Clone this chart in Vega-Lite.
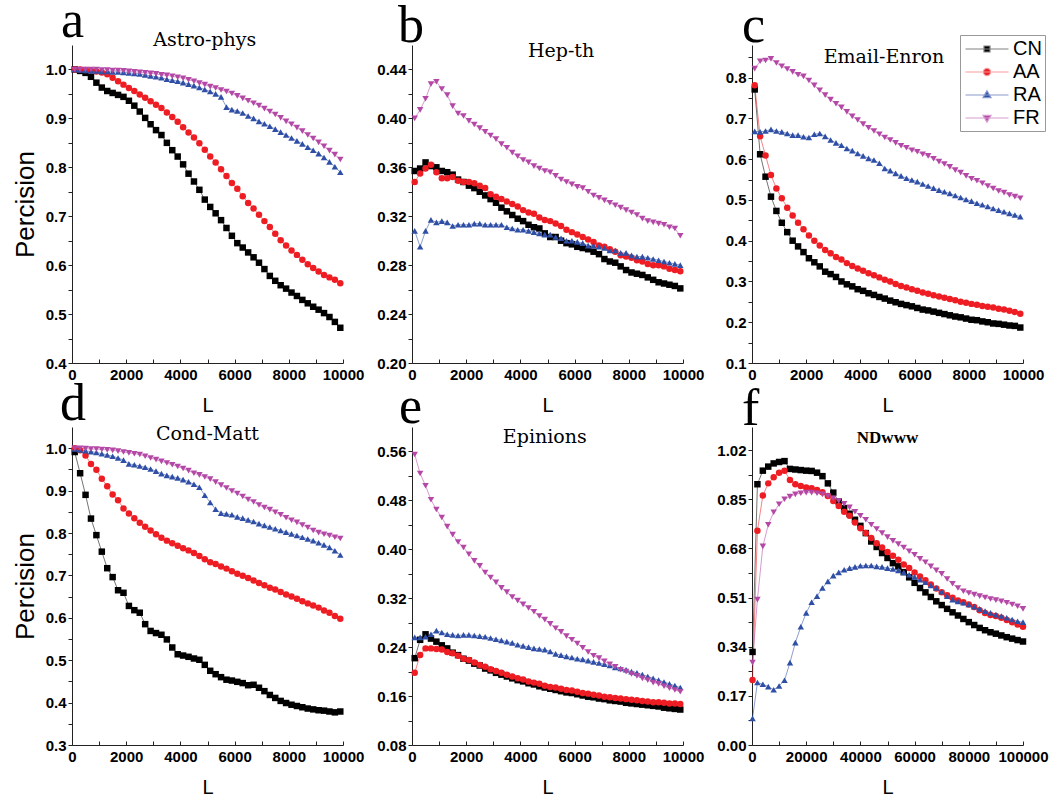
{
"$schema":"https://vega.github.io/schema/vega-lite/v6.json",
"padding":{"left":12,"top":-5,"right":5,"bottom":3},
"background":"white",
"resolve":{"scale":{"color":"independent","shape":"independent","fill":"independent","stroke":"independent"},"legend":{"color":"independent","shape":"independent","fill":"independent","stroke":"independent"}},
"config":{
 "view":{"stroke":null},
 "axis":{"grid":false,"labelFont":"Liberation Sans","labelFontWeight":"bold","labelFontSize":15,"labelColor":"#000","domainColor":"#222","tickColor":"#222","tickSize":4,"labelPadding":2,"titleFont":"Liberation Sans","titleFontWeight":"normal","titleColor":"#000","labelOverlap":false,"labelFlush":false},
 "axisX":{"tickSize":-4,"labelPadding":8,"titleFontSize":20,"titleY":48,"titleBaseline":"alphabetic"},
 "axisY":{"titleFontSize":26,"titleX":-39,"titleBaseline":"alphabetic"}
},
"datasets":{
"a":[
{"s":"CN","L":100,"v":1.0},{"s":"CN","L":300,"v":0.997},{"s":"CN","L":500,"v":0.993},{"s":"CN","L":700,"v":0.985},{"s":"CN","L":900,"v":0.973},{"s":"CN","L":1100,"v":0.963},{"s":"CN","L":1300,"v":0.956},{"s":"CN","L":1500,"v":0.952},{"s":"CN","L":1700,"v":0.948},{"s":"CN","L":1900,"v":0.944},
{"s":"CN","L":2100,"v":0.936},{"s":"CN","L":2300,"v":0.926},{"s":"CN","L":2500,"v":0.914},{"s":"CN","L":2700,"v":0.901},{"s":"CN","L":2900,"v":0.888},{"s":"CN","L":3100,"v":0.876},{"s":"CN","L":3300,"v":0.866},{"s":"CN","L":3500,"v":0.85},{"s":"CN","L":3700,"v":0.835},{"s":"CN","L":3900,"v":0.822},
{"s":"CN","L":4100,"v":0.806},{"s":"CN","L":4300,"v":0.787},{"s":"CN","L":4500,"v":0.771},{"s":"CN","L":4700,"v":0.754},{"s":"CN","L":4900,"v":0.734},{"s":"CN","L":5100,"v":0.719},{"s":"CN","L":5300,"v":0.706},{"s":"CN","L":5500,"v":0.692},{"s":"CN","L":5700,"v":0.676},{"s":"CN","L":5900,"v":0.66},
{"s":"CN","L":6100,"v":0.645},{"s":"CN","L":6300,"v":0.636},{"s":"CN","L":6500,"v":0.626},{"s":"CN","L":6700,"v":0.616},{"s":"CN","L":6900,"v":0.605},{"s":"CN","L":7100,"v":0.592},{"s":"CN","L":7300,"v":0.578},{"s":"CN","L":7500,"v":0.568},{"s":"CN","L":7700,"v":0.559},{"s":"CN","L":7900,"v":0.552},
{"s":"CN","L":8100,"v":0.544},{"s":"CN","L":8300,"v":0.537},{"s":"CN","L":8500,"v":0.529},{"s":"CN","L":8700,"v":0.522},{"s":"CN","L":8900,"v":0.515},{"s":"CN","L":9100,"v":0.509},{"s":"CN","L":9300,"v":0.502},{"s":"CN","L":9500,"v":0.494},{"s":"CN","L":9700,"v":0.484},{"s":"CN","L":9900,"v":0.472},
{"s":"AA","L":100,"v":1.0},{"s":"AA","L":300,"v":1.0},{"s":"AA","L":500,"v":0.999},{"s":"AA","L":700,"v":0.998},{"s":"AA","L":900,"v":0.996},{"s":"AA","L":1100,"v":0.994},{"s":"AA","L":1300,"v":0.99},{"s":"AA","L":1500,"v":0.983},{"s":"AA","L":1700,"v":0.976},{"s":"AA","L":1900,"v":0.969},
{"s":"AA","L":2100,"v":0.962},{"s":"AA","L":2300,"v":0.956},{"s":"AA","L":2500,"v":0.949},{"s":"AA","L":2700,"v":0.942},{"s":"AA","L":2900,"v":0.935},{"s":"AA","L":3100,"v":0.928},{"s":"AA","L":3300,"v":0.921},{"s":"AA","L":3500,"v":0.912},{"s":"AA","L":3700,"v":0.903},{"s":"AA","L":3900,"v":0.893},
{"s":"AA","L":4100,"v":0.882},{"s":"AA","L":4300,"v":0.871},{"s":"AA","L":4500,"v":0.861},{"s":"AA","L":4700,"v":0.849},{"s":"AA","L":4900,"v":0.836},{"s":"AA","L":5100,"v":0.822},{"s":"AA","L":5300,"v":0.81},{"s":"AA","L":5500,"v":0.796},{"s":"AA","L":5700,"v":0.782},{"s":"AA","L":5900,"v":0.768},
{"s":"AA","L":6100,"v":0.756},{"s":"AA","L":6300,"v":0.741},{"s":"AA","L":6500,"v":0.727},{"s":"AA","L":6700,"v":0.716},{"s":"AA","L":6900,"v":0.703},{"s":"AA","L":7100,"v":0.69},{"s":"AA","L":7300,"v":0.678},{"s":"AA","L":7500,"v":0.664},{"s":"AA","L":7700,"v":0.651},{"s":"AA","L":7900,"v":0.64},
{"s":"AA","L":8100,"v":0.63},{"s":"AA","L":8300,"v":0.621},{"s":"AA","L":8500,"v":0.611},{"s":"AA","L":8700,"v":0.602},{"s":"AA","L":8900,"v":0.594},{"s":"AA","L":9100,"v":0.587},{"s":"AA","L":9300,"v":0.58},{"s":"AA","L":9500,"v":0.575},{"s":"AA","L":9700,"v":0.57},{"s":"AA","L":9900,"v":0.563},
{"s":"RA","L":100,"v":1.0},{"s":"RA","L":300,"v":0.999},{"s":"RA","L":500,"v":0.998},{"s":"RA","L":700,"v":0.997},{"s":"RA","L":900,"v":0.997},{"s":"RA","L":1100,"v":0.996},{"s":"RA","L":1300,"v":0.996},{"s":"RA","L":1500,"v":0.995},{"s":"RA","L":1700,"v":0.995},{"s":"RA","L":1900,"v":0.994},
{"s":"RA","L":2100,"v":0.993},{"s":"RA","L":2300,"v":0.992},{"s":"RA","L":2500,"v":0.991},{"s":"RA","L":2700,"v":0.989},{"s":"RA","L":2900,"v":0.987},{"s":"RA","L":3100,"v":0.985},{"s":"RA","L":3300,"v":0.983},{"s":"RA","L":3500,"v":0.98},{"s":"RA","L":3700,"v":0.978},{"s":"RA","L":3900,"v":0.976},
{"s":"RA","L":4100,"v":0.973},{"s":"RA","L":4300,"v":0.97},{"s":"RA","L":4500,"v":0.967},{"s":"RA","L":4700,"v":0.963},{"s":"RA","L":4900,"v":0.959},{"s":"RA","L":5100,"v":0.955},{"s":"RA","L":5300,"v":0.95},{"s":"RA","L":5500,"v":0.944},{"s":"RA","L":5700,"v":0.923},{"s":"RA","L":5900,"v":0.918},
{"s":"RA","L":6100,"v":0.915},{"s":"RA","L":6300,"v":0.911},{"s":"RA","L":6500,"v":0.905},{"s":"RA","L":6700,"v":0.9},{"s":"RA","L":6900,"v":0.894},{"s":"RA","L":7100,"v":0.889},{"s":"RA","L":7300,"v":0.884},{"s":"RA","L":7500,"v":0.878},{"s":"RA","L":7700,"v":0.872},{"s":"RA","L":7900,"v":0.866},
{"s":"RA","L":8100,"v":0.86},{"s":"RA","L":8300,"v":0.854},{"s":"RA","L":8500,"v":0.848},{"s":"RA","L":8700,"v":0.841},{"s":"RA","L":8900,"v":0.835},{"s":"RA","L":9100,"v":0.828},{"s":"RA","L":9300,"v":0.82},{"s":"RA","L":9500,"v":0.811},{"s":"RA","L":9700,"v":0.801},{"s":"RA","L":9900,"v":0.79},
{"s":"FR","L":100,"v":1.0},{"s":"FR","L":300,"v":1.0},{"s":"FR","L":500,"v":1.0},{"s":"FR","L":700,"v":1.0},{"s":"FR","L":900,"v":1.0},{"s":"FR","L":1100,"v":0.999},{"s":"FR","L":1300,"v":0.999},{"s":"FR","L":1500,"v":0.998},{"s":"FR","L":1700,"v":0.998},{"s":"FR","L":1900,"v":0.997},
{"s":"FR","L":2100,"v":0.996},{"s":"FR","L":2300,"v":0.995},{"s":"FR","L":2500,"v":0.994},{"s":"FR","L":2700,"v":0.993},{"s":"FR","L":2900,"v":0.992},{"s":"FR","L":3100,"v":0.991},{"s":"FR","L":3300,"v":0.989},{"s":"FR","L":3500,"v":0.988},{"s":"FR","L":3700,"v":0.986},{"s":"FR","L":3900,"v":0.984},
{"s":"FR","L":4100,"v":0.982},{"s":"FR","L":4300,"v":0.979},{"s":"FR","L":4500,"v":0.976},{"s":"FR","L":4700,"v":0.972},{"s":"FR","L":4900,"v":0.969},{"s":"FR","L":5100,"v":0.965},{"s":"FR","L":5300,"v":0.962},{"s":"FR","L":5500,"v":0.958},{"s":"FR","L":5700,"v":0.955},{"s":"FR","L":5900,"v":0.951},
{"s":"FR","L":6100,"v":0.946},{"s":"FR","L":6300,"v":0.941},{"s":"FR","L":6500,"v":0.936},{"s":"FR","L":6700,"v":0.931},{"s":"FR","L":6900,"v":0.926},{"s":"FR","L":7100,"v":0.92},{"s":"FR","L":7300,"v":0.914},{"s":"FR","L":7500,"v":0.908},{"s":"FR","L":7700,"v":0.901},{"s":"FR","L":7900,"v":0.894},
{"s":"FR","L":8100,"v":0.888},{"s":"FR","L":8300,"v":0.881},{"s":"FR","L":8500,"v":0.874},{"s":"FR","L":8700,"v":0.866},{"s":"FR","L":8900,"v":0.859},{"s":"FR","L":9100,"v":0.851},{"s":"FR","L":9300,"v":0.843},{"s":"FR","L":9500,"v":0.834},{"s":"FR","L":9700,"v":0.826},{"s":"FR","L":9900,"v":0.816}
],
"b":[
{"s":"CN","L":100,"v":0.357},{"s":"CN","L":300,"v":0.359},{"s":"CN","L":500,"v":0.364},{"s":"CN","L":700,"v":0.361},{"s":"CN","L":900,"v":0.36},{"s":"CN","L":1100,"v":0.357},{"s":"CN","L":1300,"v":0.356},{"s":"CN","L":1500,"v":0.354},{"s":"CN","L":1700,"v":0.35},{"s":"CN","L":1900,"v":0.348},
{"s":"CN","L":2100,"v":0.345},{"s":"CN","L":2300,"v":0.343},{"s":"CN","L":2500,"v":0.34},{"s":"CN","L":2700,"v":0.337},{"s":"CN","L":2900,"v":0.334},{"s":"CN","L":3100,"v":0.331},{"s":"CN","L":3300,"v":0.327},{"s":"CN","L":3500,"v":0.324},{"s":"CN","L":3700,"v":0.321},{"s":"CN","L":3900,"v":0.318},
{"s":"CN","L":4100,"v":0.316},{"s":"CN","L":4300,"v":0.313},{"s":"CN","L":4500,"v":0.311},{"s":"CN","L":4700,"v":0.31},{"s":"CN","L":4900,"v":0.306},{"s":"CN","L":5100,"v":0.303},{"s":"CN","L":5300,"v":0.303},{"s":"CN","L":5500,"v":0.3},{"s":"CN","L":5700,"v":0.298},{"s":"CN","L":5900,"v":0.297},
{"s":"CN","L":6100,"v":0.295},{"s":"CN","L":6300,"v":0.294},{"s":"CN","L":6500,"v":0.293},{"s":"CN","L":6700,"v":0.291},{"s":"CN","L":6900,"v":0.289},{"s":"CN","L":7100,"v":0.285},{"s":"CN","L":7300,"v":0.283},{"s":"CN","L":7500,"v":0.282},{"s":"CN","L":7700,"v":0.279},{"s":"CN","L":7900,"v":0.276},
{"s":"CN","L":8100,"v":0.274},{"s":"CN","L":8300,"v":0.273},{"s":"CN","L":8500,"v":0.272},{"s":"CN","L":8700,"v":0.27},{"s":"CN","L":8900,"v":0.268},{"s":"CN","L":9100,"v":0.266},{"s":"CN","L":9300,"v":0.265},{"s":"CN","L":9500,"v":0.264},{"s":"CN","L":9700,"v":0.263},{"s":"CN","L":9900,"v":0.261},
{"s":"AA","L":100,"v":0.348},{"s":"AA","L":300,"v":0.355},{"s":"AA","L":500,"v":0.359},{"s":"AA","L":700,"v":0.362},{"s":"AA","L":900,"v":0.356},{"s":"AA","L":1100,"v":0.351},{"s":"AA","L":1300,"v":0.351},{"s":"AA","L":1500,"v":0.352},{"s":"AA","L":1700,"v":0.349},{"s":"AA","L":1900,"v":0.348},
{"s":"AA","L":2100,"v":0.348},{"s":"AA","L":2300,"v":0.347},{"s":"AA","L":2500,"v":0.345},{"s":"AA","L":2700,"v":0.343},{"s":"AA","L":2900,"v":0.338},{"s":"AA","L":3100,"v":0.336},{"s":"AA","L":3300,"v":0.334},{"s":"AA","L":3500,"v":0.332},{"s":"AA","L":3700,"v":0.33},{"s":"AA","L":3900,"v":0.328},
{"s":"AA","L":4100,"v":0.325},{"s":"AA","L":4300,"v":0.323},{"s":"AA","L":4500,"v":0.322},{"s":"AA","L":4700,"v":0.319},{"s":"AA","L":4900,"v":0.317},{"s":"AA","L":5100,"v":0.316},{"s":"AA","L":5300,"v":0.314},{"s":"AA","L":5500,"v":0.312},{"s":"AA","L":5700,"v":0.309},{"s":"AA","L":5900,"v":0.307},
{"s":"AA","L":6100,"v":0.305},{"s":"AA","L":6300,"v":0.303},{"s":"AA","L":6500,"v":0.301},{"s":"AA","L":6700,"v":0.299},{"s":"AA","L":6900,"v":0.296},{"s":"AA","L":7100,"v":0.295},{"s":"AA","L":7300,"v":0.293},{"s":"AA","L":7500,"v":0.291},{"s":"AA","L":7700,"v":0.288},{"s":"AA","L":7900,"v":0.287},
{"s":"AA","L":8100,"v":0.286},{"s":"AA","L":8300,"v":0.284},{"s":"AA","L":8500,"v":0.283},{"s":"AA","L":8700,"v":0.281},{"s":"AA","L":8900,"v":0.28},{"s":"AA","L":9100,"v":0.28},{"s":"AA","L":9300,"v":0.279},{"s":"AA","L":9500,"v":0.277},{"s":"AA","L":9700,"v":0.276},{"s":"AA","L":9900,"v":0.275},
{"s":"RA","L":100,"v":0.308},{"s":"RA","L":300,"v":0.295},{"s":"RA","L":500,"v":0.308},{"s":"RA","L":700,"v":0.317},{"s":"RA","L":900,"v":0.315},{"s":"RA","L":1100,"v":0.316},{"s":"RA","L":1300,"v":0.315},{"s":"RA","L":1500,"v":0.312},{"s":"RA","L":1700,"v":0.313},{"s":"RA","L":1900,"v":0.313},
{"s":"RA","L":2100,"v":0.313},{"s":"RA","L":2300,"v":0.314},{"s":"RA","L":2500,"v":0.314},{"s":"RA","L":2700,"v":0.313},{"s":"RA","L":2900,"v":0.313},{"s":"RA","L":3100,"v":0.313},{"s":"RA","L":3300,"v":0.313},{"s":"RA","L":3500,"v":0.311},{"s":"RA","L":3700,"v":0.31},{"s":"RA","L":3900,"v":0.309},
{"s":"RA","L":4100,"v":0.309},{"s":"RA","L":4300,"v":0.308},{"s":"RA","L":4500,"v":0.307},{"s":"RA","L":4700,"v":0.306},{"s":"RA","L":4900,"v":0.305},{"s":"RA","L":5100,"v":0.305},{"s":"RA","L":5300,"v":0.303},{"s":"RA","L":5500,"v":0.302},{"s":"RA","L":5700,"v":0.3},{"s":"RA","L":5900,"v":0.3},
{"s":"RA","L":6100,"v":0.299},{"s":"RA","L":6300,"v":0.298},{"s":"RA","L":6500,"v":0.296},{"s":"RA","L":6700,"v":0.296},{"s":"RA","L":6900,"v":0.295},{"s":"RA","L":7100,"v":0.294},{"s":"RA","L":7300,"v":0.292},{"s":"RA","L":7500,"v":0.292},{"s":"RA","L":7700,"v":0.29},{"s":"RA","L":7900,"v":0.29},
{"s":"RA","L":8100,"v":0.288},{"s":"RA","L":8300,"v":0.287},{"s":"RA","L":8500,"v":0.287},{"s":"RA","L":8700,"v":0.286},{"s":"RA","L":8900,"v":0.285},{"s":"RA","L":9100,"v":0.284},{"s":"RA","L":9300,"v":0.283},{"s":"RA","L":9500,"v":0.282},{"s":"RA","L":9700,"v":0.281},{"s":"RA","L":9900,"v":0.28},
{"s":"FR","L":100,"v":0.4},{"s":"FR","L":300,"v":0.407},{"s":"FR","L":500,"v":0.416},{"s":"FR","L":700,"v":0.428},{"s":"FR","L":900,"v":0.43},{"s":"FR","L":1100,"v":0.424},{"s":"FR","L":1300,"v":0.419},{"s":"FR","L":1500,"v":0.41},{"s":"FR","L":1700,"v":0.404},{"s":"FR","L":1900,"v":0.402},
{"s":"FR","L":2100,"v":0.398},{"s":"FR","L":2300,"v":0.395},{"s":"FR","L":2500,"v":0.392},{"s":"FR","L":2700,"v":0.389},{"s":"FR","L":2900,"v":0.386},{"s":"FR","L":3100,"v":0.383},{"s":"FR","L":3300,"v":0.379},{"s":"FR","L":3500,"v":0.376},{"s":"FR","L":3700,"v":0.372},{"s":"FR","L":3900,"v":0.369},
{"s":"FR","L":4100,"v":0.366},{"s":"FR","L":4300,"v":0.364},{"s":"FR","L":4500,"v":0.361},{"s":"FR","L":4700,"v":0.359},{"s":"FR","L":4900,"v":0.357},{"s":"FR","L":5100,"v":0.356},{"s":"FR","L":5300,"v":0.353},{"s":"FR","L":5500,"v":0.35},{"s":"FR","L":5700,"v":0.348},{"s":"FR","L":5900,"v":0.346},
{"s":"FR","L":6100,"v":0.344},{"s":"FR","L":6300,"v":0.343},{"s":"FR","L":6500,"v":0.34},{"s":"FR","L":6700,"v":0.337},{"s":"FR","L":6900,"v":0.335},{"s":"FR","L":7100,"v":0.333},{"s":"FR","L":7300,"v":0.331},{"s":"FR","L":7500,"v":0.329},{"s":"FR","L":7700,"v":0.327},{"s":"FR","L":7900,"v":0.325},
{"s":"FR","L":8100,"v":0.323},{"s":"FR","L":8300,"v":0.321},{"s":"FR","L":8500,"v":0.318},{"s":"FR","L":8700,"v":0.316},{"s":"FR","L":8900,"v":0.315},{"s":"FR","L":9100,"v":0.314},{"s":"FR","L":9300,"v":0.313},{"s":"FR","L":9500,"v":0.311},{"s":"FR","L":9700,"v":0.31},{"s":"FR","L":9900,"v":0.304}
],
"c":[
{"s":"CN","L":100,"v":0.771},{"s":"CN","L":300,"v":0.612},{"s":"CN","L":500,"v":0.557},{"s":"CN","L":700,"v":0.508},{"s":"CN","L":900,"v":0.473},{"s":"CN","L":1100,"v":0.444},{"s":"CN","L":1300,"v":0.421},{"s":"CN","L":1500,"v":0.4},{"s":"CN","L":1700,"v":0.386},{"s":"CN","L":1900,"v":0.372},
{"s":"CN","L":2100,"v":0.357},{"s":"CN","L":2300,"v":0.347},{"s":"CN","L":2500,"v":0.337},{"s":"CN","L":2700,"v":0.324},{"s":"CN","L":2900,"v":0.318},{"s":"CN","L":3100,"v":0.311},{"s":"CN","L":3300,"v":0.3},{"s":"CN","L":3500,"v":0.293},{"s":"CN","L":3700,"v":0.288},{"s":"CN","L":3900,"v":0.281},
{"s":"CN","L":4100,"v":0.277},{"s":"CN","L":4300,"v":0.271},{"s":"CN","L":4500,"v":0.267},{"s":"CN","L":4700,"v":0.262},{"s":"CN","L":4900,"v":0.258},{"s":"CN","L":5100,"v":0.253},{"s":"CN","L":5300,"v":0.249},{"s":"CN","L":5500,"v":0.245},{"s":"CN","L":5700,"v":0.242},{"s":"CN","L":5900,"v":0.239},
{"s":"CN","L":6100,"v":0.235},{"s":"CN","L":6300,"v":0.231},{"s":"CN","L":6500,"v":0.229},{"s":"CN","L":6700,"v":0.226},{"s":"CN","L":6900,"v":0.223},{"s":"CN","L":7100,"v":0.22},{"s":"CN","L":7300,"v":0.217},{"s":"CN","L":7500,"v":0.214},{"s":"CN","L":7700,"v":0.212},{"s":"CN","L":7900,"v":0.209},
{"s":"CN","L":8100,"v":0.206},{"s":"CN","L":8300,"v":0.205},{"s":"CN","L":8500,"v":0.202},{"s":"CN","L":8700,"v":0.2},{"s":"CN","L":8900,"v":0.197},{"s":"CN","L":9100,"v":0.196},{"s":"CN","L":9300,"v":0.194},{"s":"CN","L":9500,"v":0.192},{"s":"CN","L":9700,"v":0.191},{"s":"CN","L":9900,"v":0.187},
{"s":"AA","L":100,"v":0.781},{"s":"AA","L":300,"v":0.656},{"s":"AA","L":500,"v":0.609},{"s":"AA","L":700,"v":0.561},{"s":"AA","L":900,"v":0.528},{"s":"AA","L":1100,"v":0.504},{"s":"AA","L":1300,"v":0.481},{"s":"AA","L":1500,"v":0.462},{"s":"AA","L":1700,"v":0.444},{"s":"AA","L":1900,"v":0.428},
{"s":"AA","L":2100,"v":0.413},{"s":"AA","L":2300,"v":0.4},{"s":"AA","L":2500,"v":0.388},{"s":"AA","L":2700,"v":0.377},{"s":"AA","L":2900,"v":0.369},{"s":"AA","L":3100,"v":0.36},{"s":"AA","L":3300,"v":0.354},{"s":"AA","L":3500,"v":0.345},{"s":"AA","L":3700,"v":0.338},{"s":"AA","L":3900,"v":0.332},
{"s":"AA","L":4100,"v":0.326},{"s":"AA","L":4300,"v":0.32},{"s":"AA","L":4500,"v":0.315},{"s":"AA","L":4700,"v":0.31},{"s":"AA","L":4900,"v":0.304},{"s":"AA","L":5100,"v":0.3},{"s":"AA","L":5300,"v":0.294},{"s":"AA","L":5500,"v":0.289},{"s":"AA","L":5700,"v":0.285},{"s":"AA","L":5900,"v":0.281},
{"s":"AA","L":6100,"v":0.277},{"s":"AA","L":6300,"v":0.273},{"s":"AA","L":6500,"v":0.27},{"s":"AA","L":6700,"v":0.266},{"s":"AA","L":6900,"v":0.263},{"s":"AA","L":7100,"v":0.26},{"s":"AA","L":7300,"v":0.257},{"s":"AA","L":7500,"v":0.254},{"s":"AA","L":7700,"v":0.25},{"s":"AA","L":7900,"v":0.248},
{"s":"AA","L":8100,"v":0.245},{"s":"AA","L":8300,"v":0.243},{"s":"AA","L":8500,"v":0.24},{"s":"AA","L":8700,"v":0.238},{"s":"AA","L":8900,"v":0.236},{"s":"AA","L":9100,"v":0.233},{"s":"AA","L":9300,"v":0.231},{"s":"AA","L":9500,"v":0.228},{"s":"AA","L":9700,"v":0.225},{"s":"AA","L":9900,"v":0.221},
{"s":"RA","L":100,"v":0.668},{"s":"RA","L":300,"v":0.667},{"s":"RA","L":500,"v":0.669},{"s":"RA","L":700,"v":0.673},{"s":"RA","L":900,"v":0.669},{"s":"RA","L":1100,"v":0.667},{"s":"RA","L":1300,"v":0.663},{"s":"RA","L":1500,"v":0.659},{"s":"RA","L":1700,"v":0.659},{"s":"RA","L":1900,"v":0.655},
{"s":"RA","L":2100,"v":0.653},{"s":"RA","L":2300,"v":0.661},{"s":"RA","L":2500,"v":0.663},{"s":"RA","L":2700,"v":0.656},{"s":"RA","L":2900,"v":0.647},{"s":"RA","L":3100,"v":0.64},{"s":"RA","L":3300,"v":0.634},{"s":"RA","L":3500,"v":0.626},{"s":"RA","L":3700,"v":0.621},{"s":"RA","L":3900,"v":0.614},
{"s":"RA","L":4100,"v":0.608},{"s":"RA","L":4300,"v":0.602},{"s":"RA","L":4500,"v":0.598},{"s":"RA","L":4700,"v":0.59},{"s":"RA","L":4900,"v":0.577},{"s":"RA","L":5100,"v":0.572},{"s":"RA","L":5300,"v":0.565},{"s":"RA","L":5500,"v":0.559},{"s":"RA","L":5700,"v":0.553},{"s":"RA","L":5900,"v":0.549},
{"s":"RA","L":6100,"v":0.545},{"s":"RA","L":6300,"v":0.539},{"s":"RA","L":6500,"v":0.534},{"s":"RA","L":6700,"v":0.529},{"s":"RA","L":6900,"v":0.524},{"s":"RA","L":7100,"v":0.52},{"s":"RA","L":7300,"v":0.516},{"s":"RA","L":7500,"v":0.511},{"s":"RA","L":7700,"v":0.506},{"s":"RA","L":7900,"v":0.501},
{"s":"RA","L":8100,"v":0.497},{"s":"RA","L":8300,"v":0.492},{"s":"RA","L":8500,"v":0.488},{"s":"RA","L":8700,"v":0.484},{"s":"RA","L":8900,"v":0.479},{"s":"RA","L":9100,"v":0.475},{"s":"RA","L":9300,"v":0.471},{"s":"RA","L":9500,"v":0.467},{"s":"RA","L":9700,"v":0.463},{"s":"RA","L":9900,"v":0.459},
{"s":"FR","L":100,"v":0.822},{"s":"FR","L":300,"v":0.84},{"s":"FR","L":500,"v":0.842},{"s":"FR","L":700,"v":0.846},{"s":"FR","L":900,"v":0.836},{"s":"FR","L":1100,"v":0.828},{"s":"FR","L":1300,"v":0.821},{"s":"FR","L":1500,"v":0.814},{"s":"FR","L":1700,"v":0.807},{"s":"FR","L":1900,"v":0.803},
{"s":"FR","L":2100,"v":0.793},{"s":"FR","L":2300,"v":0.781},{"s":"FR","L":2500,"v":0.769},{"s":"FR","L":2700,"v":0.757},{"s":"FR","L":2900,"v":0.746},{"s":"FR","L":3100,"v":0.736},{"s":"FR","L":3300,"v":0.727},{"s":"FR","L":3500,"v":0.716},{"s":"FR","L":3700,"v":0.705},{"s":"FR","L":3900,"v":0.696},
{"s":"FR","L":4100,"v":0.686},{"s":"FR","L":4300,"v":0.677},{"s":"FR","L":4500,"v":0.669},{"s":"FR","L":4700,"v":0.661},{"s":"FR","L":4900,"v":0.653},{"s":"FR","L":5100,"v":0.647},{"s":"FR","L":5300,"v":0.64},{"s":"FR","L":5500,"v":0.633},{"s":"FR","L":5700,"v":0.628},{"s":"FR","L":5900,"v":0.622},
{"s":"FR","L":6100,"v":0.618},{"s":"FR","L":6300,"v":0.612},{"s":"FR","L":6500,"v":0.608},{"s":"FR","L":6700,"v":0.601},{"s":"FR","L":6900,"v":0.594},{"s":"FR","L":7100,"v":0.588},{"s":"FR","L":7300,"v":0.581},{"s":"FR","L":7500,"v":0.573},{"s":"FR","L":7700,"v":0.567},{"s":"FR","L":7900,"v":0.559},
{"s":"FR","L":8100,"v":0.552},{"s":"FR","L":8300,"v":0.547},{"s":"FR","L":8500,"v":0.541},{"s":"FR","L":8700,"v":0.534},{"s":"FR","L":8900,"v":0.528},{"s":"FR","L":9100,"v":0.522},{"s":"FR","L":9300,"v":0.518},{"s":"FR","L":9500,"v":0.512},{"s":"FR","L":9700,"v":0.508},{"s":"FR","L":9900,"v":0.504}
],
"d":[
{"s":"CN","L":100,"v":0.991},{"s":"CN","L":300,"v":0.941},{"s":"CN","L":500,"v":0.89},{"s":"CN","L":700,"v":0.834},{"s":"CN","L":900,"v":0.795},{"s":"CN","L":1100,"v":0.756},{"s":"CN","L":1300,"v":0.717},{"s":"CN","L":1500,"v":0.696},{"s":"CN","L":1700,"v":0.665},{"s":"CN","L":1900,"v":0.659},
{"s":"CN","L":2100,"v":0.628},{"s":"CN","L":2300,"v":0.618},{"s":"CN","L":2500,"v":0.612},{"s":"CN","L":2700,"v":0.585},{"s":"CN","L":2900,"v":0.569},{"s":"CN","L":3100,"v":0.564},{"s":"CN","L":3300,"v":0.56},{"s":"CN","L":3500,"v":0.549},{"s":"CN","L":3700,"v":0.53},{"s":"CN","L":3900,"v":0.514},
{"s":"CN","L":4100,"v":0.511},{"s":"CN","L":4300,"v":0.508},{"s":"CN","L":4500,"v":0.504},{"s":"CN","L":4700,"v":0.501},{"s":"CN","L":4900,"v":0.489},{"s":"CN","L":5100,"v":0.475},{"s":"CN","L":5300,"v":0.467},{"s":"CN","L":5500,"v":0.46},{"s":"CN","L":5700,"v":0.454},{"s":"CN","L":5900,"v":0.452},
{"s":"CN","L":6100,"v":0.449},{"s":"CN","L":6300,"v":0.446},{"s":"CN","L":6500,"v":0.441},{"s":"CN","L":6700,"v":0.442},{"s":"CN","L":6900,"v":0.435},{"s":"CN","L":7100,"v":0.427},{"s":"CN","L":7300,"v":0.418},{"s":"CN","L":7500,"v":0.411},{"s":"CN","L":7700,"v":0.404},{"s":"CN","L":7900,"v":0.399},
{"s":"CN","L":8100,"v":0.395},{"s":"CN","L":8300,"v":0.392},{"s":"CN","L":8500,"v":0.389},{"s":"CN","L":8700,"v":0.386},{"s":"CN","L":8900,"v":0.384},{"s":"CN","L":9100,"v":0.382},{"s":"CN","L":9300,"v":0.381},{"s":"CN","L":9500,"v":0.379},{"s":"CN","L":9700,"v":0.377},{"s":"CN","L":9900,"v":0.379},
{"s":"AA","L":100,"v":1.0},{"s":"AA","L":300,"v":0.995},{"s":"AA","L":500,"v":0.983},{"s":"AA","L":700,"v":0.963},{"s":"AA","L":900,"v":0.949},{"s":"AA","L":1100,"v":0.928},{"s":"AA","L":1300,"v":0.91},{"s":"AA","L":1500,"v":0.891},{"s":"AA","L":1700,"v":0.877},{"s":"AA","L":1900,"v":0.858},
{"s":"AA","L":2100,"v":0.846},{"s":"AA","L":2300,"v":0.835},{"s":"AA","L":2500,"v":0.824},{"s":"AA","L":2700,"v":0.815},{"s":"AA","L":2900,"v":0.806},{"s":"AA","L":3100,"v":0.797},{"s":"AA","L":3300,"v":0.789},{"s":"AA","L":3500,"v":0.782},{"s":"AA","L":3700,"v":0.776},{"s":"AA","L":3900,"v":0.77},
{"s":"AA","L":4100,"v":0.764},{"s":"AA","L":4300,"v":0.759},{"s":"AA","L":4500,"v":0.753},{"s":"AA","L":4700,"v":0.746},{"s":"AA","L":4900,"v":0.738},{"s":"AA","L":5100,"v":0.731},{"s":"AA","L":5300,"v":0.727},{"s":"AA","L":5500,"v":0.721},{"s":"AA","L":5700,"v":0.716},{"s":"AA","L":5900,"v":0.71},
{"s":"AA","L":6100,"v":0.704},{"s":"AA","L":6300,"v":0.699},{"s":"AA","L":6500,"v":0.694},{"s":"AA","L":6700,"v":0.688},{"s":"AA","L":6900,"v":0.682},{"s":"AA","L":7100,"v":0.677},{"s":"AA","L":7300,"v":0.671},{"s":"AA","L":7500,"v":0.667},{"s":"AA","L":7700,"v":0.661},{"s":"AA","L":7900,"v":0.655},
{"s":"AA","L":8100,"v":0.65},{"s":"AA","L":8300,"v":0.645},{"s":"AA","L":8500,"v":0.639},{"s":"AA","L":8700,"v":0.634},{"s":"AA","L":8900,"v":0.629},{"s":"AA","L":9100,"v":0.624},{"s":"AA","L":9300,"v":0.617},{"s":"AA","L":9500,"v":0.612},{"s":"AA","L":9700,"v":0.604},{"s":"AA","L":9900,"v":0.598},
{"s":"RA","L":100,"v":0.998},{"s":"RA","L":300,"v":0.996},{"s":"RA","L":500,"v":0.994},{"s":"RA","L":700,"v":0.992},{"s":"RA","L":900,"v":0.99},{"s":"RA","L":1100,"v":0.987},{"s":"RA","L":1300,"v":0.984},{"s":"RA","L":1500,"v":0.981},{"s":"RA","L":1700,"v":0.977},{"s":"RA","L":1900,"v":0.972},
{"s":"RA","L":2100,"v":0.963},{"s":"RA","L":2300,"v":0.961},{"s":"RA","L":2500,"v":0.958},{"s":"RA","L":2700,"v":0.955},{"s":"RA","L":2900,"v":0.951},{"s":"RA","L":3100,"v":0.946},{"s":"RA","L":3300,"v":0.94},{"s":"RA","L":3500,"v":0.936},{"s":"RA","L":3700,"v":0.933},{"s":"RA","L":3900,"v":0.93},
{"s":"RA","L":4100,"v":0.926},{"s":"RA","L":4300,"v":0.921},{"s":"RA","L":4500,"v":0.915},{"s":"RA","L":4700,"v":0.908},{"s":"RA","L":4900,"v":0.889},{"s":"RA","L":5100,"v":0.872},{"s":"RA","L":5300,"v":0.856},{"s":"RA","L":5500,"v":0.847},{"s":"RA","L":5700,"v":0.845},{"s":"RA","L":5900,"v":0.843},
{"s":"RA","L":6100,"v":0.838},{"s":"RA","L":6300,"v":0.835},{"s":"RA","L":6500,"v":0.831},{"s":"RA","L":6700,"v":0.827},{"s":"RA","L":6900,"v":0.822},{"s":"RA","L":7100,"v":0.818},{"s":"RA","L":7300,"v":0.814},{"s":"RA","L":7500,"v":0.81},{"s":"RA","L":7700,"v":0.806},{"s":"RA","L":7900,"v":0.802},
{"s":"RA","L":8100,"v":0.798},{"s":"RA","L":8300,"v":0.794},{"s":"RA","L":8500,"v":0.79},{"s":"RA","L":8700,"v":0.786},{"s":"RA","L":8900,"v":0.782},{"s":"RA","L":9100,"v":0.777},{"s":"RA","L":9300,"v":0.772},{"s":"RA","L":9500,"v":0.766},{"s":"RA","L":9700,"v":0.758},{"s":"RA","L":9900,"v":0.748},
{"s":"FR","L":100,"v":1.0},{"s":"FR","L":300,"v":1.0},{"s":"FR","L":500,"v":0.999},{"s":"FR","L":700,"v":0.998},{"s":"FR","L":900,"v":0.998},{"s":"FR","L":1100,"v":0.997},{"s":"FR","L":1300,"v":0.996},{"s":"FR","L":1500,"v":0.995},{"s":"FR","L":1700,"v":0.993},{"s":"FR","L":1900,"v":0.991},
{"s":"FR","L":2100,"v":0.989},{"s":"FR","L":2300,"v":0.987},{"s":"FR","L":2500,"v":0.985},{"s":"FR","L":2700,"v":0.981},{"s":"FR","L":2900,"v":0.977},{"s":"FR","L":3100,"v":0.973},{"s":"FR","L":3300,"v":0.969},{"s":"FR","L":3500,"v":0.965},{"s":"FR","L":3700,"v":0.961},{"s":"FR","L":3900,"v":0.957},
{"s":"FR","L":4100,"v":0.952},{"s":"FR","L":4300,"v":0.947},{"s":"FR","L":4500,"v":0.941},{"s":"FR","L":4700,"v":0.937},{"s":"FR","L":4900,"v":0.932},{"s":"FR","L":5100,"v":0.927},{"s":"FR","L":5300,"v":0.92},{"s":"FR","L":5500,"v":0.913},{"s":"FR","L":5700,"v":0.906},{"s":"FR","L":5900,"v":0.899},
{"s":"FR","L":6100,"v":0.893},{"s":"FR","L":6300,"v":0.886},{"s":"FR","L":6500,"v":0.879},{"s":"FR","L":6700,"v":0.873},{"s":"FR","L":6900,"v":0.866},{"s":"FR","L":7100,"v":0.86},{"s":"FR","L":7300,"v":0.855},{"s":"FR","L":7500,"v":0.849},{"s":"FR","L":7700,"v":0.843},{"s":"FR","L":7900,"v":0.836},
{"s":"FR","L":8100,"v":0.83},{"s":"FR","L":8300,"v":0.825},{"s":"FR","L":8500,"v":0.819},{"s":"FR","L":8700,"v":0.813},{"s":"FR","L":8900,"v":0.806},{"s":"FR","L":9100,"v":0.801},{"s":"FR","L":9300,"v":0.797},{"s":"FR","L":9500,"v":0.794},{"s":"FR","L":9700,"v":0.79},{"s":"FR","L":9900,"v":0.787}
],
"e":[
{"s":"CN","L":100,"v":0.222},{"s":"CN","L":300,"v":0.252},{"s":"CN","L":500,"v":0.261},{"s":"CN","L":700,"v":0.254},{"s":"CN","L":900,"v":0.249},{"s":"CN","L":1100,"v":0.243},{"s":"CN","L":1300,"v":0.238},{"s":"CN","L":1500,"v":0.231},{"s":"CN","L":1700,"v":0.227},{"s":"CN","L":1900,"v":0.221},
{"s":"CN","L":2100,"v":0.218},{"s":"CN","L":2300,"v":0.213},{"s":"CN","L":2500,"v":0.21},{"s":"CN","L":2700,"v":0.205},{"s":"CN","L":2900,"v":0.202},{"s":"CN","L":3100,"v":0.198},{"s":"CN","L":3300,"v":0.195},{"s":"CN","L":3500,"v":0.192},{"s":"CN","L":3700,"v":0.189},{"s":"CN","L":3900,"v":0.186},
{"s":"CN","L":4100,"v":0.184},{"s":"CN","L":4300,"v":0.181},{"s":"CN","L":4500,"v":0.179},{"s":"CN","L":4700,"v":0.176},{"s":"CN","L":4900,"v":0.174},{"s":"CN","L":5100,"v":0.172},{"s":"CN","L":5300,"v":0.17},{"s":"CN","L":5500,"v":0.168},{"s":"CN","L":5700,"v":0.166},{"s":"CN","L":5900,"v":0.165},
{"s":"CN","L":6100,"v":0.163},{"s":"CN","L":6300,"v":0.161},{"s":"CN","L":6500,"v":0.159},{"s":"CN","L":6700,"v":0.158},{"s":"CN","L":6900,"v":0.156},{"s":"CN","L":7100,"v":0.155},{"s":"CN","L":7300,"v":0.153},{"s":"CN","L":7500,"v":0.152},{"s":"CN","L":7700,"v":0.151},{"s":"CN","L":7900,"v":0.149},
{"s":"CN","L":8100,"v":0.148},{"s":"CN","L":8300,"v":0.147},{"s":"CN","L":8500,"v":0.146},{"s":"CN","L":8700,"v":0.145},{"s":"CN","L":8900,"v":0.144},{"s":"CN","L":9100,"v":0.143},{"s":"CN","L":9300,"v":0.141},{"s":"CN","L":9500,"v":0.14},{"s":"CN","L":9700,"v":0.139},{"s":"CN","L":9900,"v":0.138},
{"s":"AA","L":100,"v":0.198},{"s":"AA","L":300,"v":0.227},{"s":"AA","L":500,"v":0.238},{"s":"AA","L":700,"v":0.238},{"s":"AA","L":900,"v":0.237},{"s":"AA","L":1100,"v":0.236},{"s":"AA","L":1300,"v":0.232},{"s":"AA","L":1500,"v":0.23},{"s":"AA","L":1700,"v":0.226},{"s":"AA","L":1900,"v":0.221},
{"s":"AA","L":2100,"v":0.219},{"s":"AA","L":2300,"v":0.215},{"s":"AA","L":2500,"v":0.211},{"s":"AA","L":2700,"v":0.208},{"s":"AA","L":2900,"v":0.204},{"s":"AA","L":3100,"v":0.201},{"s":"AA","L":3300,"v":0.198},{"s":"AA","L":3500,"v":0.195},{"s":"AA","L":3700,"v":0.192},{"s":"AA","L":3900,"v":0.189},
{"s":"AA","L":4100,"v":0.187},{"s":"AA","L":4300,"v":0.184},{"s":"AA","L":4500,"v":0.182},{"s":"AA","L":4700,"v":0.18},{"s":"AA","L":4900,"v":0.177},{"s":"AA","L":5100,"v":0.175},{"s":"AA","L":5300,"v":0.174},{"s":"AA","L":5500,"v":0.172},{"s":"AA","L":5700,"v":0.17},{"s":"AA","L":5900,"v":0.169},
{"s":"AA","L":6100,"v":0.167},{"s":"AA","L":6300,"v":0.165},{"s":"AA","L":6500,"v":0.164},{"s":"AA","L":6700,"v":0.162},{"s":"AA","L":6900,"v":0.161},{"s":"AA","L":7100,"v":0.159},{"s":"AA","L":7300,"v":0.158},{"s":"AA","L":7500,"v":0.157},{"s":"AA","L":7700,"v":0.156},{"s":"AA","L":7900,"v":0.155},
{"s":"AA","L":8100,"v":0.154},{"s":"AA","L":8300,"v":0.153},{"s":"AA","L":8500,"v":0.152},{"s":"AA","L":8700,"v":0.151},{"s":"AA","L":8900,"v":0.15},{"s":"AA","L":9100,"v":0.15},{"s":"AA","L":9300,"v":0.149},{"s":"AA","L":9500,"v":0.148},{"s":"AA","L":9700,"v":0.148},{"s":"AA","L":9900,"v":0.147},
{"s":"RA","L":100,"v":0.256},{"s":"RA","L":300,"v":0.256},{"s":"RA","L":500,"v":0.257},{"s":"RA","L":700,"v":0.261},{"s":"RA","L":900,"v":0.267},{"s":"RA","L":1100,"v":0.264},{"s":"RA","L":1300,"v":0.261},{"s":"RA","L":1500,"v":0.26},{"s":"RA","L":1700,"v":0.259},{"s":"RA","L":1900,"v":0.26},
{"s":"RA","L":2100,"v":0.26},{"s":"RA","L":2300,"v":0.259},{"s":"RA","L":2500,"v":0.258},{"s":"RA","L":2700,"v":0.257},{"s":"RA","L":2900,"v":0.255},{"s":"RA","L":3100,"v":0.253},{"s":"RA","L":3300,"v":0.251},{"s":"RA","L":3500,"v":0.249},{"s":"RA","L":3700,"v":0.247},{"s":"RA","L":3900,"v":0.244},
{"s":"RA","L":4100,"v":0.242},{"s":"RA","L":4300,"v":0.24},{"s":"RA","L":4500,"v":0.238},{"s":"RA","L":4700,"v":0.237},{"s":"RA","L":4900,"v":0.236},{"s":"RA","L":5100,"v":0.233},{"s":"RA","L":5300,"v":0.229},{"s":"RA","L":5500,"v":0.227},{"s":"RA","L":5700,"v":0.225},{"s":"RA","L":5900,"v":0.223},
{"s":"RA","L":6100,"v":0.221},{"s":"RA","L":6300,"v":0.22},{"s":"RA","L":6500,"v":0.218},{"s":"RA","L":6700,"v":0.216},{"s":"RA","L":6900,"v":0.214},{"s":"RA","L":7100,"v":0.212},{"s":"RA","L":7300,"v":0.21},{"s":"RA","L":7500,"v":0.207},{"s":"RA","L":7700,"v":0.205},{"s":"RA","L":7900,"v":0.203},
{"s":"RA","L":8100,"v":0.2},{"s":"RA","L":8300,"v":0.198},{"s":"RA","L":8500,"v":0.195},{"s":"RA","L":8700,"v":0.192},{"s":"RA","L":8900,"v":0.189},{"s":"RA","L":9100,"v":0.186},{"s":"RA","L":9300,"v":0.183},{"s":"RA","L":9500,"v":0.18},{"s":"RA","L":9700,"v":0.177},{"s":"RA","L":9900,"v":0.174},
{"s":"FR","L":100,"v":0.555},{"s":"FR","L":300,"v":0.524},{"s":"FR","L":500,"v":0.504},{"s":"FR","L":700,"v":0.481},{"s":"FR","L":900,"v":0.465},{"s":"FR","L":1100,"v":0.452},{"s":"FR","L":1300,"v":0.437},{"s":"FR","L":1500,"v":0.424},{"s":"FR","L":1700,"v":0.412},{"s":"FR","L":1900,"v":0.403},
{"s":"FR","L":2100,"v":0.392},{"s":"FR","L":2300,"v":0.381},{"s":"FR","L":2500,"v":0.373},{"s":"FR","L":2700,"v":0.362},{"s":"FR","L":2900,"v":0.354},{"s":"FR","L":3100,"v":0.346},{"s":"FR","L":3300,"v":0.337},{"s":"FR","L":3500,"v":0.33},{"s":"FR","L":3700,"v":0.322},{"s":"FR","L":3900,"v":0.316},
{"s":"FR","L":4100,"v":0.31},{"s":"FR","L":4300,"v":0.304},{"s":"FR","L":4500,"v":0.298},{"s":"FR","L":4700,"v":0.291},{"s":"FR","L":4900,"v":0.285},{"s":"FR","L":5100,"v":0.278},{"s":"FR","L":5300,"v":0.271},{"s":"FR","L":5500,"v":0.265},{"s":"FR","L":5700,"v":0.258},{"s":"FR","L":5900,"v":0.252},
{"s":"FR","L":6100,"v":0.246},{"s":"FR","L":6300,"v":0.239},{"s":"FR","L":6500,"v":0.232},{"s":"FR","L":6700,"v":0.226},{"s":"FR","L":6900,"v":0.222},{"s":"FR","L":7100,"v":0.217},{"s":"FR","L":7300,"v":0.212},{"s":"FR","L":7500,"v":0.208},{"s":"FR","L":7700,"v":0.203},{"s":"FR","L":7900,"v":0.2},
{"s":"FR","L":8100,"v":0.196},{"s":"FR","L":8300,"v":0.193},{"s":"FR","L":8500,"v":0.189},{"s":"FR","L":8700,"v":0.186},{"s":"FR","L":8900,"v":0.182},{"s":"FR","L":9100,"v":0.18},{"s":"FR","L":9300,"v":0.176},{"s":"FR","L":9500,"v":0.173},{"s":"FR","L":9700,"v":0.17},{"s":"FR","L":9900,"v":0.167}
],
"f":[
{"s":"CN","L":200,"v":0.322},{"s":"CN","L":2000,"v":0.902},{"s":"CN","L":4000,"v":0.949},{"s":"CN","L":6000,"v":0.963},{"s":"CN","L":8000,"v":0.974},{"s":"CN","L":10000,"v":0.979},{"s":"CN","L":12000,"v":0.982},{"s":"CN","L":14000,"v":0.955},{"s":"CN","L":16000,"v":0.953},{"s":"CN","L":18000,"v":0.951},
{"s":"CN","L":20000,"v":0.949},{"s":"CN","L":22000,"v":0.948},{"s":"CN","L":24000,"v":0.942},{"s":"CN","L":26000,"v":0.93},{"s":"CN","L":28000,"v":0.905},{"s":"CN","L":30000,"v":0.873},{"s":"CN","L":32000,"v":0.842},{"s":"CN","L":34000,"v":0.819},{"s":"CN","L":36000,"v":0.8},{"s":"CN","L":38000,"v":0.779},
{"s":"CN","L":40000,"v":0.758},{"s":"CN","L":42000,"v":0.733},{"s":"CN","L":44000,"v":0.704},{"s":"CN","L":46000,"v":0.685},{"s":"CN","L":48000,"v":0.664},{"s":"CN","L":50000,"v":0.647},{"s":"CN","L":52000,"v":0.629},{"s":"CN","L":54000,"v":0.618},{"s":"CN","L":56000,"v":0.598},{"s":"CN","L":58000,"v":0.58},
{"s":"CN","L":60000,"v":0.561},{"s":"CN","L":62000,"v":0.543},{"s":"CN","L":64000,"v":0.528},{"s":"CN","L":66000,"v":0.512},{"s":"CN","L":68000,"v":0.497},{"s":"CN","L":70000,"v":0.484},{"s":"CN","L":72000,"v":0.471},{"s":"CN","L":74000,"v":0.459},{"s":"CN","L":76000,"v":0.448},{"s":"CN","L":78000,"v":0.436},
{"s":"CN","L":80000,"v":0.425},{"s":"CN","L":82000,"v":0.415},{"s":"CN","L":84000,"v":0.405},{"s":"CN","L":86000,"v":0.397},{"s":"CN","L":88000,"v":0.39},{"s":"CN","L":90000,"v":0.385},{"s":"CN","L":92000,"v":0.379},{"s":"CN","L":94000,"v":0.373},{"s":"CN","L":96000,"v":0.368},{"s":"CN","L":98000,"v":0.363},{"s":"CN","L":100000,"v":0.358},
{"s":"AA","L":200,"v":0.225},{"s":"AA","L":2000,"v":0.741},{"s":"AA","L":4000,"v":0.863},{"s":"AA","L":6000,"v":0.905},{"s":"AA","L":8000,"v":0.926},{"s":"AA","L":10000,"v":0.942},{"s":"AA","L":12000,"v":0.949},{"s":"AA","L":14000,"v":0.917},{"s":"AA","L":16000,"v":0.902},{"s":"AA","L":18000,"v":0.896},
{"s":"AA","L":20000,"v":0.891},{"s":"AA","L":22000,"v":0.888},{"s":"AA","L":24000,"v":0.882},{"s":"AA","L":26000,"v":0.874},{"s":"AA","L":28000,"v":0.861},{"s":"AA","L":30000,"v":0.844},{"s":"AA","L":32000,"v":0.827},{"s":"AA","L":34000,"v":0.807},{"s":"AA","L":36000,"v":0.793},{"s":"AA","L":38000,"v":0.77},
{"s":"AA","L":40000,"v":0.75},{"s":"AA","L":42000,"v":0.733},{"s":"AA","L":44000,"v":0.716},{"s":"AA","L":46000,"v":0.698},{"s":"AA","L":48000,"v":0.683},{"s":"AA","L":50000,"v":0.668},{"s":"AA","L":52000,"v":0.655},{"s":"AA","L":54000,"v":0.641},{"s":"AA","L":56000,"v":0.624},{"s":"AA","L":58000,"v":0.612},
{"s":"AA","L":60000,"v":0.597},{"s":"AA","L":62000,"v":0.583},{"s":"AA","L":64000,"v":0.57},{"s":"AA","L":66000,"v":0.555},{"s":"AA","L":68000,"v":0.541},{"s":"AA","L":70000,"v":0.528},{"s":"AA","L":72000,"v":0.518},{"s":"AA","L":74000,"v":0.509},{"s":"AA","L":76000,"v":0.5},{"s":"AA","L":78000,"v":0.494},
{"s":"AA","L":80000,"v":0.486},{"s":"AA","L":82000,"v":0.477},{"s":"AA","L":84000,"v":0.466},{"s":"AA","L":86000,"v":0.457},{"s":"AA","L":88000,"v":0.45},{"s":"AA","L":90000,"v":0.446},{"s":"AA","L":92000,"v":0.44},{"s":"AA","L":94000,"v":0.432},{"s":"AA","L":96000,"v":0.425},{"s":"AA","L":98000,"v":0.417},{"s":"AA","L":100000,"v":0.409},
{"s":"RA","L":200,"v":0.092},{"s":"RA","L":2000,"v":0.216},{"s":"RA","L":4000,"v":0.21},{"s":"RA","L":6000,"v":0.202},{"s":"RA","L":8000,"v":0.191},{"s":"RA","L":10000,"v":0.204},{"s":"RA","L":12000,"v":0.224},{"s":"RA","L":14000,"v":0.285},{"s":"RA","L":16000,"v":0.354},{"s":"RA","L":18000,"v":0.409},
{"s":"RA","L":20000,"v":0.457},{"s":"RA","L":22000,"v":0.494},{"s":"RA","L":24000,"v":0.515},{"s":"RA","L":26000,"v":0.543},{"s":"RA","L":28000,"v":0.566},{"s":"RA","L":30000,"v":0.586},{"s":"RA","L":32000,"v":0.597},{"s":"RA","L":34000,"v":0.606},{"s":"RA","L":36000,"v":0.612},{"s":"RA","L":38000,"v":0.616},
{"s":"RA","L":40000,"v":0.62},{"s":"RA","L":42000,"v":0.621},{"s":"RA","L":44000,"v":0.621},{"s":"RA","L":46000,"v":0.618},{"s":"RA","L":48000,"v":0.616},{"s":"RA","L":50000,"v":0.612},{"s":"RA","L":52000,"v":0.609},{"s":"RA","L":54000,"v":0.604},{"s":"RA","L":56000,"v":0.597},{"s":"RA","L":58000,"v":0.589},
{"s":"RA","L":60000,"v":0.581},{"s":"RA","L":62000,"v":0.572},{"s":"RA","L":64000,"v":0.563},{"s":"RA","L":66000,"v":0.552},{"s":"RA","L":68000,"v":0.543},{"s":"RA","L":70000,"v":0.53},{"s":"RA","L":72000,"v":0.515},{"s":"RA","L":74000,"v":0.503},{"s":"RA","L":76000,"v":0.497},{"s":"RA","L":78000,"v":0.492},
{"s":"RA","L":80000,"v":0.486},{"s":"RA","L":82000,"v":0.478},{"s":"RA","L":84000,"v":0.471},{"s":"RA","L":86000,"v":0.463},{"s":"RA","L":88000,"v":0.457},{"s":"RA","L":90000,"v":0.451},{"s":"RA","L":92000,"v":0.446},{"s":"RA","L":94000,"v":0.44},{"s":"RA","L":96000,"v":0.434},{"s":"RA","L":98000,"v":0.428},{"s":"RA","L":100000,"v":0.425},
{"s":"FR","L":200,"v":0.285},{"s":"FR","L":2000,"v":0.503},{"s":"FR","L":4000,"v":0.687},{"s":"FR","L":6000,"v":0.762},{"s":"FR","L":8000,"v":0.805},{"s":"FR","L":10000,"v":0.833},{"s":"FR","L":12000,"v":0.85},{"s":"FR","L":14000,"v":0.859},{"s":"FR","L":16000,"v":0.867},{"s":"FR","L":18000,"v":0.871},
{"s":"FR","L":20000,"v":0.873},{"s":"FR","L":22000,"v":0.873},{"s":"FR","L":24000,"v":0.871},{"s":"FR","L":26000,"v":0.867},{"s":"FR","L":28000,"v":0.861},{"s":"FR","L":30000,"v":0.853},{"s":"FR","L":32000,"v":0.844},{"s":"FR","L":34000,"v":0.834},{"s":"FR","L":36000,"v":0.822},{"s":"FR","L":38000,"v":0.807},
{"s":"FR","L":40000,"v":0.793},{"s":"FR","L":42000,"v":0.779},{"s":"FR","L":44000,"v":0.762},{"s":"FR","L":46000,"v":0.747},{"s":"FR","L":48000,"v":0.733},{"s":"FR","L":50000,"v":0.719},{"s":"FR","L":52000,"v":0.706},{"s":"FR","L":54000,"v":0.695},{"s":"FR","L":56000,"v":0.683},{"s":"FR","L":58000,"v":0.67},
{"s":"FR","L":60000,"v":0.658},{"s":"FR","L":62000,"v":0.644},{"s":"FR","L":64000,"v":0.632},{"s":"FR","L":66000,"v":0.618},{"s":"FR","L":68000,"v":0.604},{"s":"FR","L":70000,"v":0.592},{"s":"FR","L":72000,"v":0.574},{"s":"FR","L":74000,"v":0.558},{"s":"FR","L":76000,"v":0.543},{"s":"FR","L":78000,"v":0.532},
{"s":"FR","L":80000,"v":0.526},{"s":"FR","L":82000,"v":0.52},{"s":"FR","L":84000,"v":0.515},{"s":"FR","L":86000,"v":0.51},{"s":"FR","L":88000,"v":0.505},{"s":"FR","L":90000,"v":0.501},{"s":"FR","L":92000,"v":0.497},{"s":"FR","L":94000,"v":0.492},{"s":"FR","L":96000,"v":0.486},{"s":"FR","L":98000,"v":0.48},{"s":"FR","L":100000,"v":0.471}
]
},
"concat":[
{"width":271,"height":318,"data":{"name":"a"},
 "encoding":{
  "x":{"field":"L","type":"quantitative","scale":{"domain":[0,10000],"nice":false},"axis":{"title":"L","values":[0,1000,2000,3000,4000,5000,6000,7000,8000,9000,10000],"labelExpr":"datum.value%2000===0 ? format(datum.value,'d') : ''"}},
  "y":{"field":"v","type":"quantitative","scale":{"domain":[0.4,1.05],"nice":false,"zero":false},"axis":{"title":"Percision","values":[0.4,0.45,0.5,0.55,0.6,0.65,0.7,0.75,0.8,0.85,0.9,0.95,1.0],"labelExpr":"round(datum.value*100)%10===0 ? format(datum.value,'.1f') : ''"}}},
 "layer":[
  {"mark":{"type":"line","strokeWidth":1,"opacity":0.55},"encoding":{"color":{"field":"s","type":"nominal","scale":{"domain":["CN","AA","RA","FR"],"range":["#000000","#ee1d23","#2f4fa6","#b448a6"]},"legend":null}}},
  {"mark":{"type":"point","filled":true,"opacity":1,"size":42},"encoding":{"color":{"field":"s","type":"nominal","scale":{"domain":["CN","AA","RA","FR"],"range":["#000000","#ee1d23","#2f4fa6","#b448a6"]},"legend":null},"shape":{"field":"s","type":"nominal","scale":{"domain":["CN","AA","RA","FR"],"range":["square","circle","triangle-up","triangle-down"]},"legend":null}}},
  {"transform":[{"filter":"datum.s==='CN' && datum.L<=200"}],"mark":{"type":"text","font":"DejaVu Serif","fontSize":19,"baseline":"alphabetic","align":"center","dy":1,"fill":"#000000"},"encoding":{"x":{"datum":4900},"y":{"datum":1.05},"text":{"value":"Astro-phys"}}},
  {"transform":[{"filter":"datum.s==='CN' && datum.L<=200"}],"mark":{"type":"text","font":"Liberation Serif","fontSize":52,"baseline":"alphabetic","align":"left","dx":-11,"dy":-8,"fill":"#000000"},"encoding":{"x":{"datum":0},"y":{"datum":1.05},"text":{"value":"a"}}}
 ]},
{"width":271,"height":318,"data":{"name":"b"},
 "encoding":{
  "x":{"field":"L","type":"quantitative","scale":{"domain":[0,10000],"nice":false},"axis":{"title":"L","values":[0,1000,2000,3000,4000,5000,6000,7000,8000,9000,10000],"labelExpr":"datum.value%2000===0 ? format(datum.value,'d') : ''"}},
  "y":{"field":"v","type":"quantitative","scale":{"domain":[0.2,0.46],"nice":false,"zero":false},"axis":{"title":null,"values":[0.2,0.22,0.24,0.26,0.28,0.3,0.32,0.34,0.36,0.38,0.4,0.42,0.44],"labelExpr":"round(datum.value*100)%4===0 ? format(datum.value,'.2f') : ''"}}},
 "layer":[
  {"mark":{"type":"line","strokeWidth":1,"opacity":0.55},"encoding":{"color":{"field":"s","type":"nominal","scale":{"domain":["CN","AA","RA","FR"],"range":["#000000","#ee1d23","#2f4fa6","#b448a6"]},"legend":null}}},
  {"mark":{"type":"point","filled":true,"opacity":1,"size":42},"encoding":{"color":{"field":"s","type":"nominal","scale":{"domain":["CN","AA","RA","FR"],"range":["#000000","#ee1d23","#2f4fa6","#b448a6"]},"legend":null},"shape":{"field":"s","type":"nominal","scale":{"domain":["CN","AA","RA","FR"],"range":["square","circle","triangle-up","triangle-down"]},"legend":null}}},
  {"transform":[{"filter":"datum.s==='CN' && datum.L<=200"}],"mark":{"type":"text","font":"DejaVu Serif","fontSize":19,"baseline":"alphabetic","align":"center","dy":12,"fill":"#000000"},"encoding":{"x":{"datum":5500},"y":{"datum":0.46},"text":{"value":"Hep-th"}}},
  {"transform":[{"filter":"datum.s==='CN' && datum.L<=200"}],"mark":{"type":"text","font":"Liberation Serif","fontSize":52,"baseline":"alphabetic","align":"left","dx":-14,"dy":-3,"fill":"#000000"},"encoding":{"x":{"datum":0},"y":{"datum":0.46},"text":{"value":"b"}}}
 ]},
{"width":271,"height":318,"data":{"name":"c"},
 "resolve":{"scale":{"shape":"independent","fill":"independent","stroke":"independent"},"legend":{"shape":"independent","fill":"independent","stroke":"independent"}},
 "encoding":{
  "x":{"field":"L","type":"quantitative","scale":{"domain":[0,10000],"nice":false},"axis":{"title":"L","values":[0,1000,2000,3000,4000,5000,6000,7000,8000,9000,10000],"labelExpr":"datum.value%2000===0 ? format(datum.value,'d') : ''"}},
  "y":{"field":"v","type":"quantitative","scale":{"domain":[0.1,0.88],"nice":false,"zero":false},"axis":{"title":null,"values":[0.1,0.15,0.2,0.25,0.3,0.35,0.4,0.45,0.5,0.55,0.6,0.65,0.7,0.75,0.8,0.85],"labelExpr":"round(datum.value*100)%10===0 ? format(datum.value,'.1f') : ''"}}},
 "layer":[
  {"mark":{"type":"line","strokeWidth":1,"opacity":0.55},"encoding":{"color":{"field":"s","type":"nominal","scale":{"domain":["CN","AA","RA","FR"],"range":["#000000","#ee1d23","#2f4fa6","#b448a6"]},"legend":null}}},
  {"mark":{"type":"point","filled":true,"opacity":1,"size":42},"encoding":{"color":{"field":"s","type":"nominal","scale":{"domain":["CN","AA","RA","FR"],"range":["#000000","#ee1d23","#2f4fa6","#b448a6"]},"legend":null},"shape":{"field":"s","type":"nominal","scale":{"domain":["CN","AA","RA","FR"],"range":["square","circle","triangle-up","triangle-down"]},"legend":null}}},
  {"transform":[{"filter":"false"}],"mark":{"type":"point","filled":true,"opacity":1},"encoding":{
    "fill":{"field":"s","type":"nominal","scale":{"domain":["CN","AA","RA","FR"],"range":["#000000","#ee1d23","#2f4fa6","#b448a6"]},
      "legend":{"orient":"none","legendX":208,"legendY":-10,"title":null,"padding":3,"strokeColor":"#999999","fillColor":"#ffffff","labelFont":"Liberation Sans","labelFontSize":20,"labelColor":"#000","symbolSize":400,"symbolOffset":13,"labelOffset":15,"rowPadding":2,"symbolStrokeWidth":1.2,"symbolOpacity":1}},
    "stroke":{"field":"s","type":"nominal","scale":{"domain":["CN","AA","RA","FR"],"range":["#808080","#f59a9c","#8797cc","#d79ccf"]},
      "legend":{"orient":"none","legendX":208,"legendY":-10,"title":null,"padding":3,"strokeColor":"#999999","fillColor":"#ffffff","labelFont":"Liberation Sans","labelFontSize":20,"labelColor":"#000","symbolSize":400,"symbolOffset":13,"labelOffset":15,"rowPadding":2,"symbolStrokeWidth":1.2,"symbolOpacity":1}},
    "shape":{"field":"s","type":"nominal","scale":{"domain":["CN","AA","RA","FR"],"range":["M-2.15,0H2.15M-0.3,-0.3H0.3V0.3H-0.3Z","M-2.15,0H2.15M-0.36,0A0.36,0.36,0,1,1,0.36,0A0.36,0.36,0,1,1,-0.36,0Z","M-2.15,0H2.15M0,-0.42L0.4,0.27L-0.4,0.27Z","M-2.15,0H2.15M0,0.42L0.4,-0.27L-0.4,-0.27Z"]},
      "legend":{"orient":"none","legendX":208,"legendY":-10,"title":null,"padding":3,"strokeColor":"#999999","fillColor":"#ffffff","labelFont":"Liberation Sans","labelFontSize":20,"labelColor":"#000","symbolSize":400,"symbolOffset":13,"labelOffset":15,"rowPadding":2,"symbolStrokeWidth":1.2,"symbolOpacity":1}}}},
  {"transform":[{"filter":"datum.s==='CN' && datum.L<=200"}],"mark":{"type":"text","font":"DejaVu Serif","fontSize":19,"baseline":"alphabetic","align":"center","dy":18,"fill":"#000000"},"encoding":{"x":{"datum":4870},"y":{"datum":0.88},"text":{"value":"Email-Enron"}}},
  {"transform":[{"filter":"datum.s==='CN' && datum.L<=200"}],"mark":{"type":"text","font":"Liberation Serif","fontSize":52,"baseline":"alphabetic","align":"left","dx":-10,"dy":-3,"fill":"#000000"},"encoding":{"x":{"datum":0},"y":{"datum":0.88},"text":{"value":"c"}}}
 ]},
{"width":271,"height":318,"data":{"name":"d"},
 "encoding":{
  "x":{"field":"L","type":"quantitative","scale":{"domain":[0,10000],"nice":false},"axis":{"title":"L","values":[0,1000,2000,3000,4000,5000,6000,7000,8000,9000,10000],"labelExpr":"datum.value%2000===0 ? format(datum.value,'d') : ''"}},
  "y":{"field":"v","type":"quantitative","scale":{"domain":[0.3,1.05],"nice":false,"zero":false},"axis":{"title":"Percision","values":[0.3,0.35,0.4,0.45,0.5,0.55,0.6,0.65,0.7,0.75,0.8,0.85,0.9,0.95,1.0],"labelExpr":"round(datum.value*100)%10===0 ? format(datum.value,'.1f') : ''"}}},
 "layer":[
  {"mark":{"type":"line","strokeWidth":1,"opacity":0.55},"encoding":{"color":{"field":"s","type":"nominal","scale":{"domain":["CN","AA","RA","FR"],"range":["#000000","#ee1d23","#2f4fa6","#b448a6"]},"legend":null}}},
  {"mark":{"type":"point","filled":true,"opacity":1,"size":42},"encoding":{"color":{"field":"s","type":"nominal","scale":{"domain":["CN","AA","RA","FR"],"range":["#000000","#ee1d23","#2f4fa6","#b448a6"]},"legend":null},"shape":{"field":"s","type":"nominal","scale":{"domain":["CN","AA","RA","FR"],"range":["square","circle","triangle-up","triangle-down"]},"legend":null}}},
  {"transform":[{"filter":"datum.s==='CN' && datum.L<=200"}],"mark":{"type":"text","font":"DejaVu Serif","fontSize":19,"baseline":"alphabetic","align":"center","dy":13,"fill":"#000000"},"encoding":{"x":{"datum":5000},"y":{"datum":1.05},"text":{"value":"Cond-Matt"}}},
  {"transform":[{"filter":"datum.s==='CN' && datum.L<=200"}],"mark":{"type":"text","font":"Liberation Serif","fontSize":52,"baseline":"alphabetic","align":"left","dx":-12,"dy":-7,"fill":"#000000"},"encoding":{"x":{"datum":0},"y":{"datum":1.05},"text":{"value":"d"}}}
 ]},
{"width":271,"height":318,"data":{"name":"e"},
 "encoding":{
  "x":{"field":"L","type":"quantitative","scale":{"domain":[0,10000],"nice":false},"axis":{"title":"L","values":[0,1000,2000,3000,4000,5000,6000,7000,8000,9000,10000],"labelExpr":"datum.value%2000===0 ? format(datum.value,'d') : ''"}},
  "y":{"field":"v","type":"quantitative","scale":{"domain":[0.08,0.6],"nice":false,"zero":false},"axis":{"title":null,"values":[0.08,0.12,0.16,0.2,0.24,0.28,0.32,0.36,0.4,0.44,0.48,0.52,0.56],"labelExpr":"round(datum.value*100)%8===0 ? format(datum.value,'.2f') : ''"}}},
 "layer":[
  {"mark":{"type":"line","strokeWidth":1,"opacity":0.55},"encoding":{"color":{"field":"s","type":"nominal","scale":{"domain":["CN","AA","RA","FR"],"range":["#000000","#ee1d23","#2f4fa6","#b448a6"]},"legend":null}}},
  {"mark":{"type":"point","filled":true,"opacity":1,"size":42},"encoding":{"color":{"field":"s","type":"nominal","scale":{"domain":["CN","AA","RA","FR"],"range":["#000000","#ee1d23","#2f4fa6","#b448a6"]},"legend":null},"shape":{"field":"s","type":"nominal","scale":{"domain":["CN","AA","RA","FR"],"range":["square","circle","triangle-up","triangle-down"]},"legend":null}}},
  {"transform":[{"filter":"datum.s==='CN' && datum.L<=200"}],"mark":{"type":"text","font":"DejaVu Serif","fontSize":19,"baseline":"alphabetic","align":"center","dy":16,"fill":"#000000"},"encoding":{"x":{"datum":4900},"y":{"datum":0.6},"text":{"value":"Epinions"}}},
  {"transform":[{"filter":"datum.s==='CN' && datum.L<=200"}],"mark":{"type":"text","font":"Liberation Serif","fontSize":52,"baseline":"alphabetic","align":"left","dx":-13,"dy":-4,"fill":"#000000"},"encoding":{"x":{"datum":0},"y":{"datum":0.6},"text":{"value":"e"}}}
 ]},
{"width":271,"height":318,"data":{"name":"f"},
 "encoding":{
  "x":{"field":"L","type":"quantitative","scale":{"domain":[0,100000],"nice":false},"axis":{"title":"L","values":[0,10000,20000,30000,40000,50000,60000,70000,80000,90000,100000],"labelExpr":"datum.value%20000===0 ? format(datum.value,'d') : ''"}},
  "y":{"field":"v","type":"quantitative","scale":{"domain":[0,1.1],"nice":false,"zero":false},"axis":{"title":null,"values":[0,0.085,0.17,0.255,0.34,0.425,0.51,0.595,0.68,0.765,0.85,0.935,1.02],"labelExpr":"round(datum.value*1000)%170===0 ? format(datum.value,'.2f') : ''"}}},
 "layer":[
  {"mark":{"type":"line","strokeWidth":1,"opacity":0.55},"encoding":{"color":{"field":"s","type":"nominal","scale":{"domain":["CN","AA","RA","FR"],"range":["#000000","#ee1d23","#2f4fa6","#b448a6"]},"legend":null}}},
  {"mark":{"type":"point","filled":true,"opacity":1,"size":42},"encoding":{"color":{"field":"s","type":"nominal","scale":{"domain":["CN","AA","RA","FR"],"range":["#000000","#ee1d23","#2f4fa6","#b448a6"]},"legend":null},"shape":{"field":"s","type":"nominal","scale":{"domain":["CN","AA","RA","FR"],"range":["square","circle","triangle-up","triangle-down"]},"legend":null}}},
  {"transform":[{"filter":"datum.s==='CN' && datum.L<=200"}],"mark":{"type":"text","font":"Liberation Serif","fontSize":17,"fontWeight":"bold","baseline":"alphabetic","align":"center","dy":16,"fill":"#000000"},"encoding":{"x":{"datum":50000},"y":{"datum":1.1},"text":{"value":"NDwww"}}},
  {"transform":[{"filter":"datum.s==='CN' && datum.L<=200"}],"mark":{"type":"text","font":"Liberation Serif","fontSize":52,"baseline":"alphabetic","align":"left","dx":-10,"dy":-2,"fill":"#000000"},"encoding":{"x":{"datum":0},"y":{"datum":1.1},"text":{"value":"f"}}}
 ]}
],
"columns":3,
"spacing":{"row":64,"column":69},
"bounds":"flush"
}
